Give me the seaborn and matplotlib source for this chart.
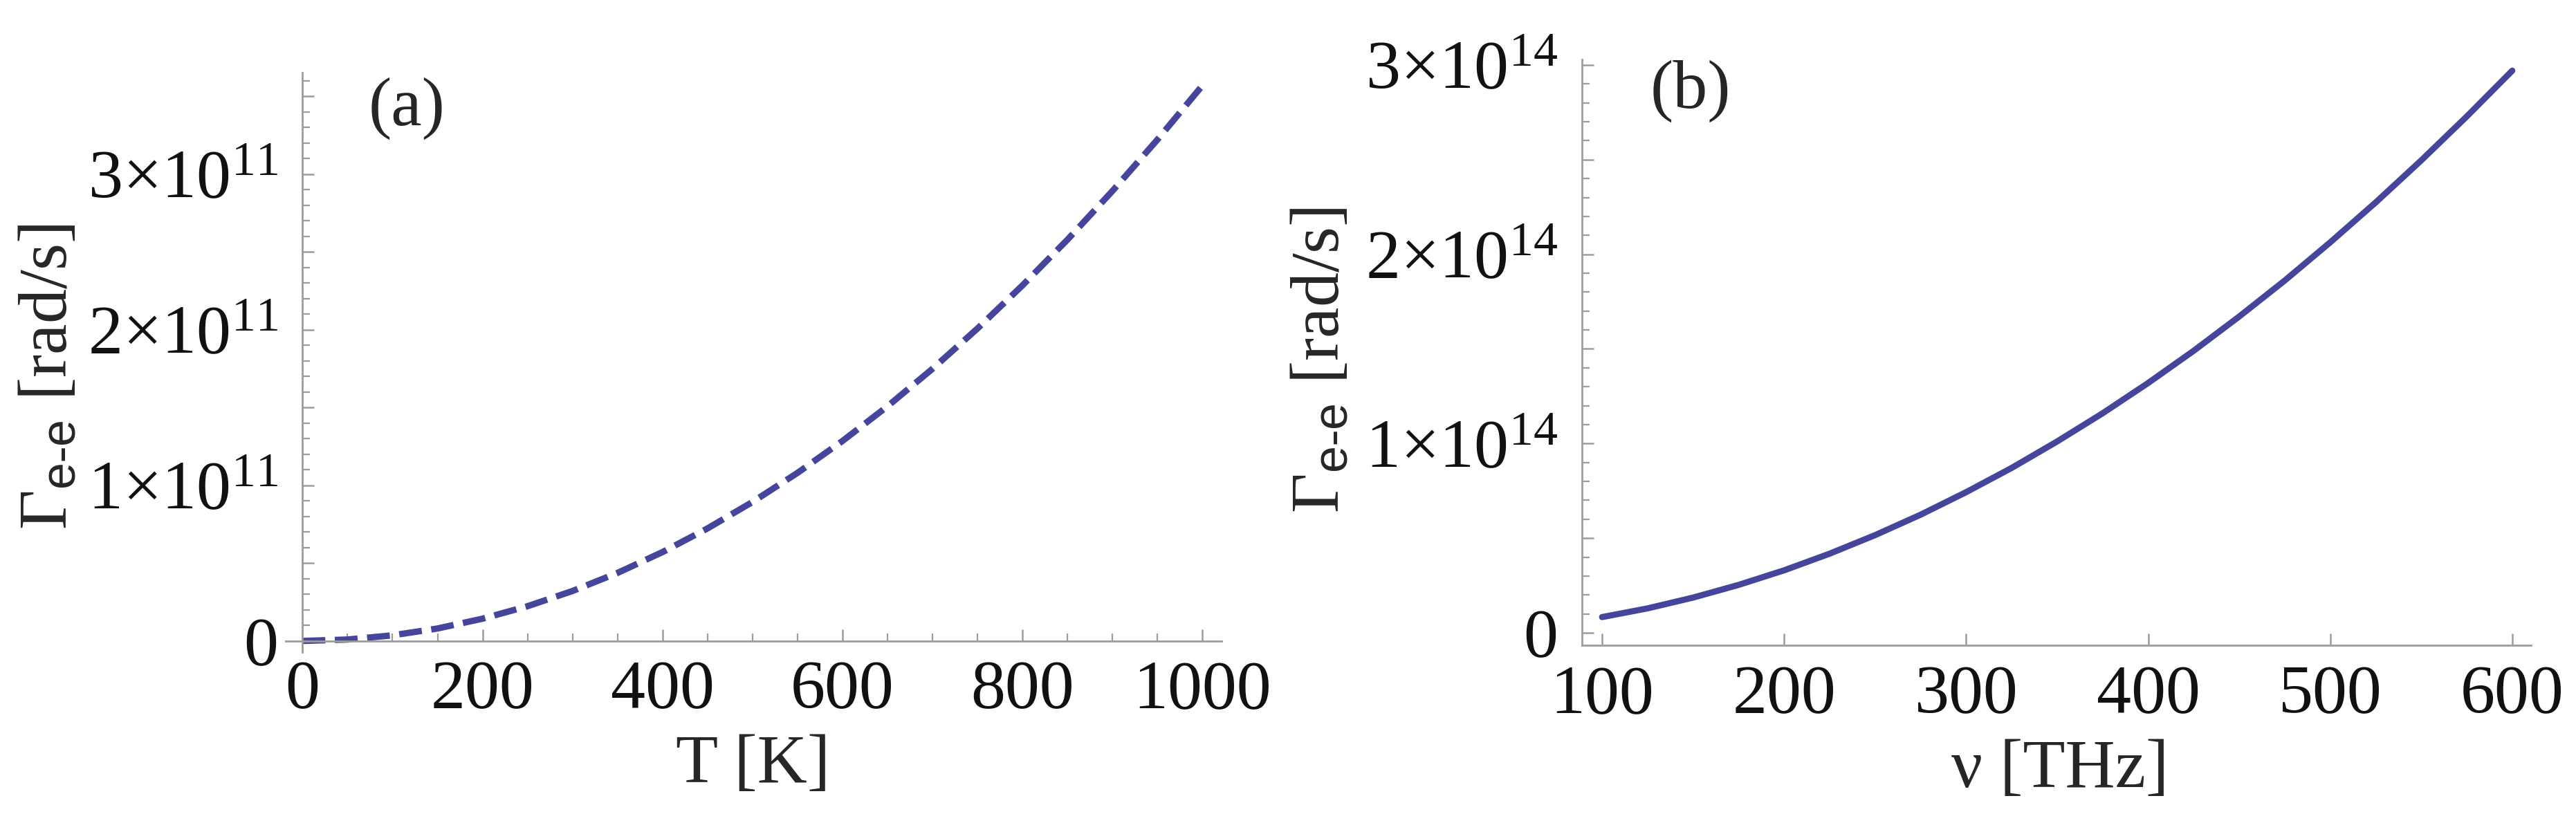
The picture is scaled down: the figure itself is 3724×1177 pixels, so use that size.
import numpy as np
import matplotlib
matplotlib.use("Agg")
import matplotlib.pyplot as plt
import matplotlib.ticker as mticker
import seaborn as sns

# (a) electron-electron scattering rate vs temperature, values in 1e11 rad/s
temperature_K = [0, 50, 100, 150, 200, 250, 300, 350, 400, 450, 500,
                 550, 600, 650, 700, 750, 800, 850, 900, 950, 1000]
gamma_vs_T = [0.0, 0.009, 0.036, 0.080, 0.143, 0.223, 0.321, 0.437, 0.571, 0.723, 0.893,
              1.080, 1.285, 1.508, 1.749, 2.008, 2.285, 2.579, 2.892, 3.222, 3.570]

# (b) electron-electron scattering rate vs frequency, values in 1e14 rad/s
frequency_THz = [100, 125, 150, 175, 200, 225, 250, 275, 300, 325, 350,
                 375, 400, 425, 450, 475, 500, 525, 550, 575, 600]
gamma_vs_nu = [0.083, 0.129, 0.186, 0.253, 0.330, 0.418, 0.516, 0.624, 0.743, 0.871, 1.011,
               1.160, 1.320, 1.490, 1.671, 1.861, 2.063, 2.274, 2.496, 2.728, 2.970]

x_label_a = "T [K]"
x_label_b = "ν [THz]"
y_label = r"Γ$_{\mathsf{e}\text{-}\mathsf{e}}$ [rad/s]"

LINE_COLOR = "#45459C"
AXIS_COLOR = "#9C9C9C"
W, H, DPI = 3724, 1177, 200

sns.set_style("white")
plt.rcParams["font.family"] = ["Liberation Serif", "DejaVu Serif"]
plt.rcParams["mathtext.fontset"] = "custom"
plt.rcParams["mathtext.rm"] = "Liberation Serif"
plt.rcParams["mathtext.it"] = "Liberation Serif:italic"
plt.rcParams["mathtext.bf"] = "Liberation Serif:bold"
plt.rcParams["mathtext.sf"] = "Liberation Sans"

FS = 36


def px_box(x0, y0, x1, y1):
    """Axes rectangle from pixel corners (top-left origin)."""
    return [x0 / W, 1 - y1 / H, (x1 - x0) / W, (y1 - y0) / H]


def sci_formatter(exp):
    def fmt(v, pos):
        k = v / 10 ** exp
        if abs(k) < 1e-9:
            return "0"
        if abs(k - round(k)) > 1e-6:
            return ""
        return rf"${int(round(k))}{{\times}}10^{{{exp}}}$"
    return mticker.FuncFormatter(fmt)


def style_axes(ax):
    for side in ["top", "right"]:
        ax.spines[side].set_visible(False)
    for side in ["left", "bottom"]:
        ax.spines[side].set_color(AXIS_COLOR)
        ax.spines[side].set_linewidth(1.0)
    ax.tick_params(which="both", direction="in", color=AXIS_COLOR, labelsize=FS,
                   labelcolor="#111111", bottom=True, left=True, top=False, right=False)
    ax.tick_params(which="major", length=6.0, width=0.9)
    ax.tick_params(which="minor", length=3.8, width=0.8)
    ax.tick_params(axis="x", pad=10)
    ax.tick_params(axis="y", pad=12.6)
    ax.set_facecolor("none")


fig = plt.figure(figsize=(W / DPI, H / DPI), dpi=DPI)

# ---- panel (a)
ax_a = fig.add_axes(px_box(412.5, 105, 1766, 942.5))
sns.lineplot(x=temperature_K, y=np.array(gamma_vs_T) * 1e11, ax=ax_a,
             color=LINE_COLOR, linewidth=3.3)
ax_a.lines[-1].set_dashes([3.6, 1.5])
ax_a.lines[-1].set_dash_capstyle("butt")
ax_a.set_xlim(-19.1, 1021.2)
ax_a.set_ylim(-0.070e11, 3.652e11)
style_axes(ax_a)
ax_a.spines["left"].set_position(("data", 0))
ax_a.spines["bottom"].set_position(("data", 0))
ax_a.xaxis.set_major_locator(mticker.MultipleLocator(200))
ax_a.xaxis.set_minor_locator(mticker.MultipleLocator(50))
ax_a.yaxis.set_major_locator(mticker.MultipleLocator(5e10))
ax_a.yaxis.set_minor_locator(mticker.MultipleLocator(1e10))
ax_a.yaxis.set_major_formatter(sci_formatter(11))
ax_a.set_xlabel(x_label_a, fontsize=FS)
ax_a.set_ylabel(y_label, fontsize=FS)
ax_a.xaxis.set_label_coords(1089 / W, 1 - 1062 / H, transform=fig.transFigure)
ax_a.yaxis.set_label_coords(118 / W, 1 - 545 / H, transform=fig.transFigure)
ax_a.text(0.130, 0.938, "(a)", transform=ax_a.transAxes, ha="center", va="center",
          fontsize=FS)

# ---- panel (b)
ax_b = fig.add_axes(px_box(2287, 86, 3659, 933))
sns.lineplot(x=frequency_THz, y=np.array(gamma_vs_nu) * 1e14, ax=ax_b,
             color=LINE_COLOR, linewidth=3.2)
ax_b.set_xlim(88.98, 610.3)
ax_b.set_ylim(-0.0658e14, 3.029e14)
style_axes(ax_b)
ax_b.xaxis.set_major_locator(mticker.MultipleLocator(100))
ax_b.yaxis.set_major_locator(mticker.MultipleLocator(5e13))
ax_b.yaxis.set_minor_locator(mticker.MultipleLocator(1e13))
ax_b.yaxis.set_major_formatter(sci_formatter(14))
ax_b.set_xlabel(x_label_b, fontsize=FS)
ax_b.set_ylabel(y_label, fontsize=FS)
ax_b.xaxis.set_label_coords(2978 / W, 1 - 1069 / H, transform=fig.transFigure)
ax_b.yaxis.set_label_coords(1957 / W, 1 - 521 / H, transform=fig.transFigure)
ax_b.text(0.1144, 0.946, "(b)", transform=ax_b.transAxes, ha="center", va="center",
          fontsize=FS)

fig.savefig("out.png", dpi=DPI, facecolor="white")
